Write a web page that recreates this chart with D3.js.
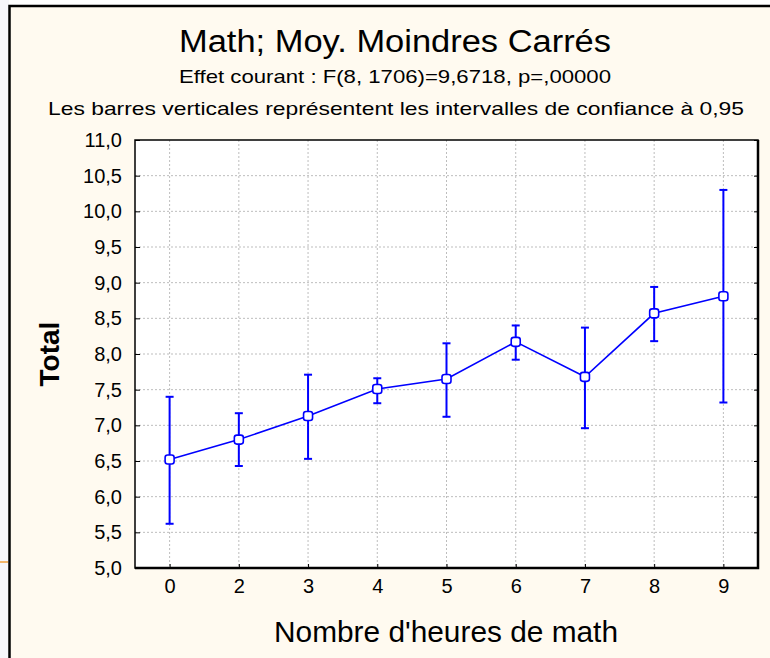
<!DOCTYPE html>
<html>
<head>
<meta charset="utf-8">
<script src="https://cdn.jsdelivr.net/npm/d3@7"></script>
<style>
body { margin: 0; background: #ffffff; }
text { font-family: "Liberation Sans", Arial, sans-serif; fill: #000; }
</style>
</head>
<body>
<script>
// heures de math (categories) and least squares means with 95% CI
var categories = ["0", "2", "3", "4", "5", "6", "7", "8", "9"];
var means = [6.52, 6.80, 7.13, 7.51, 7.65, 8.17, 7.68, 8.57, 8.81];
var lower = [5.62, 6.43, 6.53, 7.31, 7.12, 7.92, 6.96, 8.18, 7.32];
var upper = [7.40, 7.17, 7.71, 7.66, 8.15, 8.40, 8.37, 8.94, 10.30];
var yTicks = [5.0, 5.5, 6.0, 6.5, 7.0, 7.5, 8.0, 8.5, 9.0, 9.5, 10.0, 10.5, 11.0];

var width = 770;
var height = 658;

var svg = d3.select("body")
    .append("svg")
    .attr("width", width)
    .attr("height", height);

// outer window frame
svg.append("rect")
    .attr("x", 0).attr("y", 0)
    .attr("width", 9).attr("height", height)
    .attr("fill", "#f6f6fb");
svg.append("line")
    .attr("x1", 0).attr("x2", 8)
    .attr("y1", 562).attr("y2", 562)
    .attr("stroke", "#f2b56a")
    .attr("stroke-width", 2);
svg.append("rect")
    .attr("x", 9.5).attr("y", 6)
    .attr("width", width).attr("height", height)
    .attr("fill", "#fffaf0")
    .attr("stroke", "#000")
    .attr("stroke-width", 2.5);

var pLeft = 135, pRight = 758, pTop = 140, pBottom = 568;

var x = d3.scalePoint()
    .domain(categories)
    .range([pLeft, pRight])
    .padding(0.5);

var y = d3.scaleLinear()
    .domain([5, 11])
    .range([pBottom, pTop]);

var fmt = function(d) { return d3.format(".1f")(d).replace(".", ","); };

// plot background
svg.append("rect")
    .attr("x", pLeft).attr("y", pTop)
    .attr("width", pRight - pLeft).attr("height", pBottom - pTop)
    .attr("fill", "#fff");

// grid
svg.append("g")
    .selectAll("line")
    .data(yTicks.slice(1, -1))
    .enter().append("line")
    .attr("x1", pLeft).attr("x2", pRight)
    .attr("y1", function(d) { return y(d); })
    .attr("y2", function(d) { return y(d); })
    .attr("stroke", "#bdbdbd")
    .attr("stroke-dasharray", "2,2");

svg.append("g")
    .selectAll("line")
    .data(categories)
    .enter().append("line")
    .attr("x1", function(d) { return x(d); })
    .attr("x2", function(d) { return x(d); })
    .attr("y1", pTop).attr("y2", pBottom)
    .attr("stroke", "#bdbdbd")
    .attr("stroke-dasharray", "2,2");

// axes
var yAxis = svg.append("g")
    .attr("transform", "translate(" + pLeft + ",0)")
    .call(d3.axisLeft(y).tickValues(yTicks).tickFormat(fmt).tickSize(-5).tickPadding(13));
yAxis.select(".domain").remove();
yAxis.selectAll("text")
    .attr("font-size", 20)
    .attr("font-family", "Liberation Sans, Arial, sans-serif");

svg.append("g")
    .attr("transform", "translate(" + pRight + ",0)")
    .call(d3.axisRight(y).tickValues(yTicks).tickSize(-4).tickFormat(""))
  .select(".domain").remove();

var xAxis = svg.append("g")
    .attr("transform", "translate(0," + pBottom + ")")
    .call(d3.axisBottom(x).tickSize(-4).tickPadding(11));
xAxis.select(".domain").remove();
xAxis.selectAll("text")
    .attr("font-size", 20)
    .attr("font-family", "Liberation Sans, Arial, sans-serif");

svg.append("rect")
    .attr("x", pLeft).attr("y", pTop)
    .attr("width", pRight - pLeft).attr("height", pBottom - pTop)
    .attr("fill", "none")
    .attr("stroke", "#000")
    .attr("stroke-width", 1.5);
svg.append("path")
    .attr("d", "M" + pLeft + "," + pBottom + "H" + pRight + "V" + pTop)
    .attr("fill", "none")
    .attr("stroke", "#000")
    .attr("stroke-width", 2.5);

// error bars
var bars = svg.append("g")
    .selectAll("g")
    .data(categories)
    .enter().append("g");

bars.append("line")
    .attr("x1", function(d) { return x(d); })
    .attr("x2", function(d) { return x(d); })
    .attr("y1", function(d, i) { return y(lower[i]); })
    .attr("y2", function(d, i) { return y(upper[i]); })
    .attr("stroke", "#0000ff")
    .attr("stroke-width", 2);

bars.append("line")
    .attr("x1", function(d) { return x(d) - 4; })
    .attr("x2", function(d) { return x(d) + 4; })
    .attr("y1", function(d, i) { return y(lower[i]); })
    .attr("y2", function(d, i) { return y(lower[i]); })
    .attr("stroke", "#0000ff")
    .attr("stroke-width", 2);

bars.append("line")
    .attr("x1", function(d) { return x(d) - 4; })
    .attr("x2", function(d) { return x(d) + 4; })
    .attr("y1", function(d, i) { return y(upper[i]); })
    .attr("y2", function(d, i) { return y(upper[i]); })
    .attr("stroke", "#0000ff")
    .attr("stroke-width", 2);

// mean line
var line = d3.line()
    .x(function(d) { return x(d); })
    .y(function(d, i) { return y(means[i]); });

svg.append("path")
    .datum(categories)
    .attr("d", line)
    .attr("fill", "none")
    .attr("stroke", "#0000ff")
    .attr("stroke-width", 1.6);

svg.append("g")
    .selectAll("rect")
    .data(categories)
    .enter().append("rect")
    .attr("x", function(d) { return x(d) - 4.5; })
    .attr("y", function(d, i) { return y(means[i]) - 4.5; })
    .attr("width", 9).attr("height", 9)
    .attr("rx", 2.5)
    .attr("fill", "#fff")
    .attr("stroke", "#0000ff")
    .attr("stroke-width", 1.6);

// titles
svg.append("text")
    .attr("x", 395).attr("y", 52)
    .attr("text-anchor", "middle")
    .attr("font-size", 31)
    .attr("textLength", 432)
    .attr("lengthAdjust", "spacingAndGlyphs")
    .text("Math; Moy. Moindres Carrés");

svg.append("text")
    .attr("x", 395).attr("y", 83)
    .attr("text-anchor", "middle")
    .attr("font-size", 19)
    .attr("textLength", 432)
    .attr("lengthAdjust", "spacingAndGlyphs")
    .text("Effet courant : F(8, 1706)=9,6718, p=,00000");

svg.append("text")
    .attr("x", 396).attr("y", 115)
    .attr("text-anchor", "middle")
    .attr("font-size", 19)
    .attr("textLength", 696)
    .attr("lengthAdjust", "spacingAndGlyphs")
    .text("Les barres verticales représentent les intervalles de confiance à 0,95");

svg.append("text")
    .attr("x", 446).attr("y", 642)
    .attr("text-anchor", "middle")
    .attr("font-size", 29)
    .attr("textLength", 344)
    .attr("lengthAdjust", "spacingAndGlyphs")
    .text("Nombre d'heures de math");

svg.append("text")
    .attr("transform", "translate(59,354) rotate(-90)")
    .attr("text-anchor", "middle")
    .attr("font-size", 28)
    .attr("font-weight", "bold")
    .text("Total");
</script>
</body>
</html>
